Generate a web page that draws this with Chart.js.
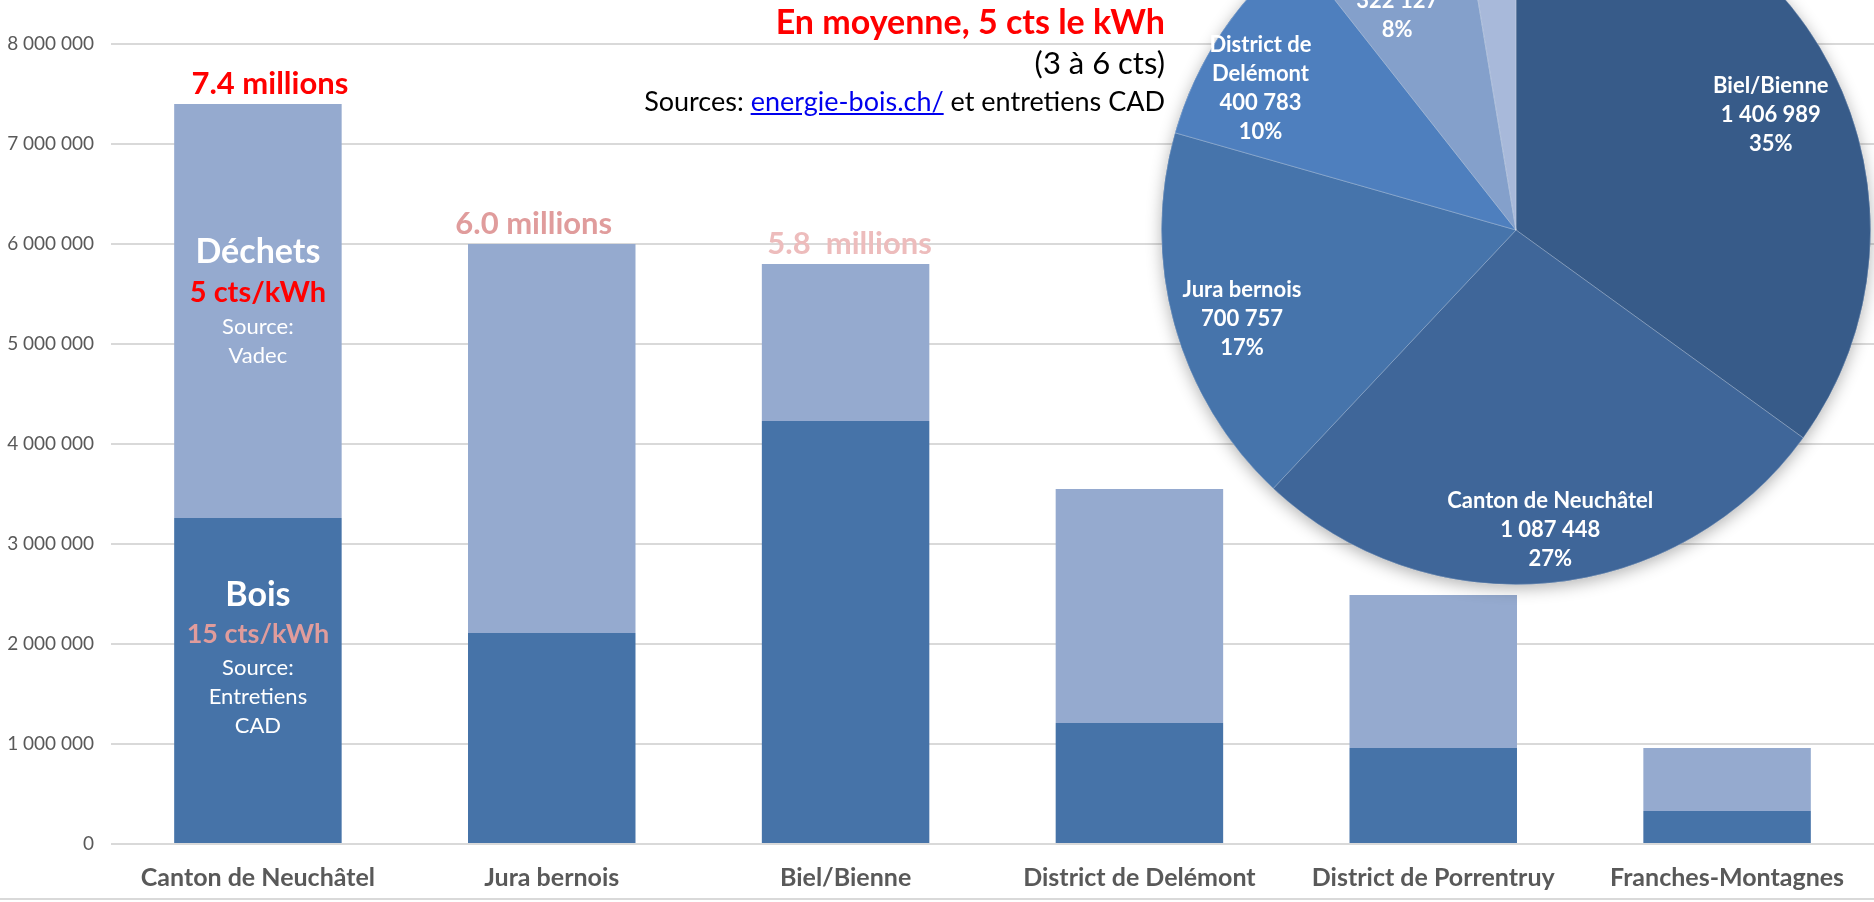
<!DOCTYPE html>
<html lang="fr">
<head>
<meta charset="UTF-8">
<title>Chaleur à distance : bois et déchets</title>
<script src="https://cdn.jsdelivr.net/npm/chart.js@4.4.0/dist/chart.umd.min.js"></script>
<style>
  html, body { margin: 0; padding: 0; background: #fff; overflow: hidden; }
  #wrap { position: relative; width: 1874px; height: 902px; overflow: hidden; font-family: Lato, sans-serif; }
  #barChart { position: absolute; left: 0; top: 0; }
  #pieChart { position: absolute; left: 1136px; top: -150px; }
  .note { position: absolute; right: 709px; white-space: nowrap; text-align: right; color: #000; }
  .note a { color: #0000EE; text-decoration: underline; }
  #frame { position: absolute; left: 0; top: 898px; width: 1874px; height: 2px; background: #D9D9D9; }
</style>
</head>
<body>
<div id="wrap">
  <canvas id="barChart" width="1874" height="902"></canvas>
  <canvas id="pieChart" width="760" height="760"></canvas>
  <div class="note" style="top:2px; font-size:34px; line-height:38px; font-weight:bold; color:#FF0000;">En moyenne, 5 cts le kWh</div>
  <div class="note" style="top:44px; font-size:31px; line-height:36px;">(3 à 6 cts)</div>
  <div class="note" style="top:85px; font-size:27px; line-height:32px;">Sources: <a href="#">energie-bois.ch/</a> et entretiens CAD</div>
  <div id="frame"></div>
</div>

<script>
// bar chart data
const categories = ['Canton de Neuchâtel', 'Jura bernois', 'Biel/Bienne', 'District de Delémont', 'District de Porrentruy', 'Franches-Montagnes'];
const boisValues = [3260000, 2110000, 4230000, 1210000, 960000, 330000];
const dechetsValues = [4140000, 3890000, 1570000, 2340000, 1530000, 630000];
const totalLabels = ['7.4 millions', '6.0 millions', '5.8  millions', '', '', ''];
const totalLabelColors = ['#FF0000', '#E09C9C', '#EDBCBC', '', '', ''];
const yMax = 8000000;
const yStep = 1000000;

// pie data
const pieLabels = [['Biel/Bienne'], ['Canton de Neuchâtel'], ['Jura bernois'], ['District de', 'Delémont'], ['District de', 'Porrentruy'], ['Franches-Montagnes']];
const pieValues = [1406989, 1087448, 700757, 400783, 322127, 105000];

const pieColors = ['#375B89', '#3F6699', '#4674AB', '#4E7FBE', '#84A0CB', '#A8B9DA'];
const pieLabelRadius = [0.75, 0.84, 0.84, 0.8, 0.76, 0.8];
const pieLabelNudge = [[18, 6], [6, 3], [13, 10], [-20, 16], [-10, 3], [0, 0]];
const totalLabelDx = [12, -18, 4, 0, 0, 0];

const fmt = v => String(v).replace(/\B(?=(\d{3})+(?!\d))/g, ' ');

// text blocks inside the first bar
const dechetsNote = [
  { t: 'Déchets', size: 34, bold: true, color: '#FFFFFF', gap: 40 },
  { t: '5 cts/kWh', size: 29, bold: true, color: '#FF0000', gap: 34 },
  { t: 'Source:', size: 22, bold: false, color: '#FFFFFF', gap: 29 },
  { t: 'Vadec', size: 22, bold: false, color: '#FFFFFF', gap: 0 }
];
const boisNote = [
  { t: 'Bois', size: 34, bold: true, color: '#FFFFFF', gap: 39 },
  { t: '15 cts/kWh', size: 27, bold: true, color: '#E09C9C', gap: 33 },
  { t: 'Source:', size: 22, bold: false, color: '#FFFFFF', gap: 29 },
  { t: 'Entretiens', size: 22, bold: false, color: '#FFFFFF', gap: 29 },
  { t: 'CAD', size: 22, bold: false, color: '#FFFFFF', gap: 0 }
];

function drawBlock(ctx, x, cy, lines) {
  const span = lines.reduce((s, l) => s + l.gap, 0);
  let y = cy - span / 2;
  lines.forEach(l => {
    ctx.font = (l.bold ? 'bold ' : '') + l.size + 'px Lato';
    ctx.fillStyle = l.color;
    ctx.fillText(l.t, x, y);
    y += l.gap;
  });
}

const barNotes = {
  id: 'barNotes',
  afterDatasetsDraw(chart) {
    const ctx = chart.ctx;
    const bot = chart.getDatasetMeta(0).data;
    const top = chart.getDatasetMeta(1).data;
    ctx.save();
    ctx.textAlign = 'center';
    ctx.textBaseline = 'middle';
    ctx.font = 'bold 31px Lato';
    top.forEach((bar, i) => {
      if (!totalLabels[i]) return;
      ctx.fillStyle = totalLabelColors[i];
      ctx.fillText(totalLabels[i], bar.x + totalLabelDx[i], bar.y - 20);
    });
    drawBlock(ctx, top[0].x, (top[0].y + top[0].base) / 2 - 7, dechetsNote);
    drawBlock(ctx, bot[0].x, (bot[0].y + bot[0].base) / 2 - 20, boisNote);
    ctx.restore();
  }
};

new Chart(document.getElementById('barChart'), {
  type: 'bar',
  data: {
    labels: categories,
    datasets: [
      { label: 'Bois', data: boisValues, backgroundColor: '#4673A8', barPercentage: 0.57, categoryPercentage: 1 },
      { label: 'Déchets', data: dechetsValues, backgroundColor: '#95AACF', barPercentage: 0.57, categoryPercentage: 1 }
    ]
  },
  options: {
    responsive: false,
    animation: false,
    layout: { padding: { top: 44, right: 0, bottom: 0, left: 0 } },
    plugins: { legend: { display: false }, tooltip: { enabled: false } },
    scales: {
      x: {
        stacked: true,
        grid: { display: false, drawTicks: false },
        border: { display: false },
        ticks: { color: '#595959', font: { family: 'Lato', size: 25, weight: 'bold' }, padding: 19, maxRotation: 0, autoSkip: false },
        afterFit(s) { s.height = 58; }
      },
      y: {
        stacked: true,
        min: 0,
        max: yMax,
        ticks: { stepSize: yStep, color: '#595959', font: { family: 'Lato', size: 19 }, padding: 17, callback: v => fmt(v) },
        grid: { color: '#D9D9D9', lineWidth: 2, drawTicks: false },
        border: { display: false },
        afterFit(s) { s.width = 111; }
      }
    }
  },
  plugins: [barNotes]
});

// pie: soft shadow under the disc, then labels on top
const pieExtras = {
  id: 'pieExtras',
  beforeDatasetsDraw(chart) {
    const arc = chart.getDatasetMeta(0).data[0];
    const ctx = chart.ctx;
    ctx.save();
    ctx.shadowColor = 'rgba(0,0,0,0.3)';
    ctx.shadowBlur = 16;
    ctx.shadowOffsetY = 4;
    ctx.fillStyle = pieColors[1];
    ctx.beginPath();
    ctx.arc(arc.x, arc.y, arc.outerRadius, 0, Math.PI * 2);
    ctx.fill();
    ctx.restore();
  },
  afterDatasetsDraw(chart) {
    const ctx = chart.ctx;
    const total = pieValues.reduce((a, b) => a + b, 0);
    ctx.save();
    ctx.textAlign = 'center';
    ctx.textBaseline = 'middle';
    ctx.fillStyle = '#FFFFFF';
    ctx.font = 'bold 22px Lato';
    chart.getDatasetMeta(0).data.forEach((arc, i) => {
      const mid = (arc.startAngle + arc.endAngle) / 2;
      const r = arc.outerRadius * pieLabelRadius[i];
      const x = arc.x + Math.cos(mid) * r + pieLabelNudge[i][0];
      const y = arc.y + Math.sin(mid) * r + pieLabelNudge[i][1];
      const lines = pieLabels[i].concat([fmt(pieValues[i]), Math.round(pieValues[i] / total * 100) + '%']);
      let ly = y - (lines.length - 1) * 29 / 2;
      lines.forEach(l => { ctx.fillText(l, x, ly); ly += 29; });
    });
    ctx.restore();
  }
};

new Chart(document.getElementById('pieChart'), {
  type: 'pie',
  data: {
    labels: pieLabels,
    datasets: [{ data: pieValues, backgroundColor: pieColors, borderColor: 'rgba(255,255,255,0.25)', borderWidth: 1 }]
  },
  options: {
    responsive: false,
    animation: false,
    layout: { padding: 25 },
    plugins: { legend: { display: false }, tooltip: { enabled: false } }
  },
  plugins: [pieExtras]
});
</script>
</body>
</html>
